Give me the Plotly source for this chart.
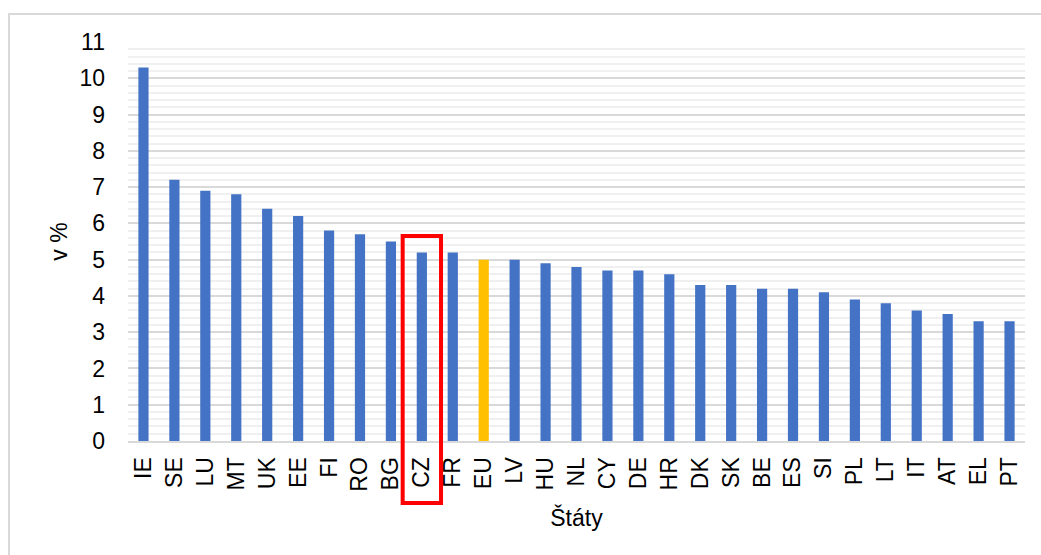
import plotly.graph_objects as go

# Country codes in display order and their values (v %)
countries = ["IE", "SE", "LU", "MT", "UK", "EE", "FI", "RO", "BG", "CZ",
             "FR", "EU", "LV", "HU", "NL", "CY", "DE", "HR", "DK", "SK",
             "BE", "ES", "SI", "PL", "LT", "IT", "AT", "EL", "PT"]
values = [10.3, 7.2, 6.9, 6.8, 6.4, 6.2, 5.8, 5.7, 5.5, 5.2,
          5.2, 5.0, 5.0, 4.9, 4.8, 4.7, 4.7, 4.6, 4.3, 4.3,
          4.2, 4.2, 4.1, 3.9, 3.8, 3.6, 3.5, 3.3, 3.3]
y_ticks = list(range(0, 12))

highlight = "CZ"
average = "EU"

BLUE = "#4472c4"
ORANGE = "#ffc000"
colors = [ORANGE if c == average else BLUE for c in countries]

W, H = 1041, 555
ML, MR, MT, MB = 128, 16, 42, 114
plot_w = W - ML - MR
plot_h = H - MT - MB

fig = go.Figure(
    go.Bar(
        x=countries,
        y=values,
        marker=dict(color=colors, line=dict(width=0)),
        hoverinfo="x+y",
    )
)

font = dict(family="Liberation Sans, Arial, sans-serif", size=23, color="#000000")

fig.update_layout(
    width=W,
    height=H,
    margin=dict(l=ML, r=MR, t=MT, b=MB),
    paper_bgcolor="#ffffff",
    plot_bgcolor="#ffffff",
    font=font,
    bargap=0.67,
    showlegend=False,
    xaxis=dict(
        type="category",
        tickangle=-90,
        tickfont=font,
        showgrid=False,
        showline=True,
        linecolor="#d9d9d9",
        linewidth=2,
        ticks="",
        ticklabelstandoff=5,
        title=dict(text="Štáty", font=font, standoff=19),
    ),
    yaxis=dict(
        range=[0, 11],
        tickvals=y_ticks,
        tickfont=font,
        showgrid=True,
        gridcolor="#d9d9d9",
        gridwidth=1.5,
        zeroline=False,
        showline=False,
        ticks="",
        ticklabelstandoff=22,
        minor=dict(dtick=0.2, showgrid=True, gridcolor="#f0f0f0", gridwidth=1.5),
        title=dict(text="v %", font=font, standoff=5),
    ),
)

# Light outer frame around the chart
fig.add_shape(
    type="rect", xref="paper", yref="paper",
    x0=(9 - ML) / plot_w, x1=1.2,
    y0=-0.5, y1=(H - MB - 14) / plot_h,
    line=dict(color="#d9d9d9", width=2), fillcolor="rgba(0,0,0,0)",
    layer="below",
)

# Red frame around the highlighted country, spanning bar and label
idx = countries.index(highlight)
fig.add_shape(
    type="rect", xref="x", yref="paper",
    x0=idx - 0.62, x1=idx + 0.62,
    y0=-62 / plot_h, y1=5.65 / 11,
    line=dict(color="#ff0000", width=4), fillcolor="rgba(0,0,0,0)",
    layer="above",
)

fig.write_html("out.html")
